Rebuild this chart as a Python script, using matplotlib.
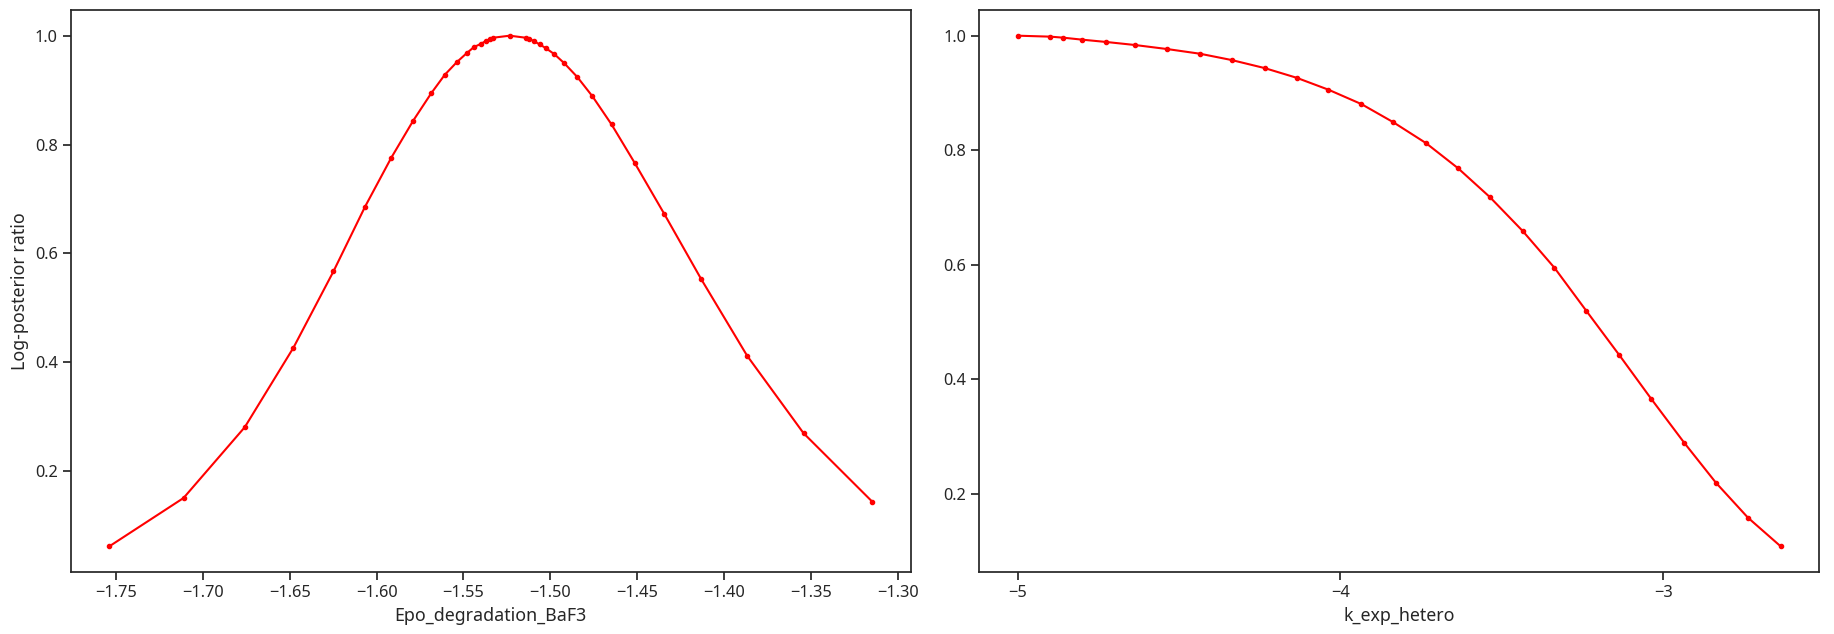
import matplotlib
matplotlib.use('Agg')
import matplotlib.pyplot as plt
from matplotlib.ticker import MultipleLocator
import seaborn as sns

# Profile: Epo_degradation_BaF3
epo_x = [-1.7538, -1.7110, -1.6758, -1.6478, -1.6248, -1.6066, -1.5915, -1.5789,
         -1.5686, -1.5608, -1.5538, -1.5481, -1.5440, -1.5402, -1.5372, -1.5347,
         -1.5328, -1.5234, -1.5143, -1.5121, -1.5095, -1.5062, -1.5028, -1.4977,
         -1.4921, -1.4845, -1.4758, -1.4648, -1.4516, -1.4346, -1.4132, -1.3868,
         -1.3544, -1.3148]
epo_y = [0.062, 0.151, 0.281, 0.427, 0.567, 0.686, 0.776, 0.844,
         0.894, 0.928, 0.9515, 0.968, 0.979, 0.9847, 0.990, 0.994,
         0.9963, 1.0, 0.9963, 0.994, 0.990, 0.984, 0.9775, 0.966,
         0.9497, 0.924, 0.8886, 0.8369, 0.7668, 0.6732, 0.5526, 0.412,
         0.270, 0.144]

# Profile: k_exp_hetero
kexp_x = [-5.0, -4.898, -4.858, -4.799, -4.725, -4.636, -4.537, -4.435,
          -4.337, -4.235, -4.136, -4.037, -3.935, -3.837, -3.735, -3.636,
          -3.537, -3.435, -3.337, -3.238, -3.136, -3.037, -2.935, -2.837,
          -2.738, -2.636]
kexp_y = [1.0, 0.9983, 0.9965, 0.993, 0.989, 0.9837, 0.9767, 0.9685,
          0.9575, 0.9435, 0.9266, 0.9057, 0.8806, 0.8492, 0.8125, 0.7688,
          0.7182, 0.6588, 0.5948, 0.5194, 0.4423, 0.3658, 0.2893, 0.2197,
          0.1588, 0.1084]

sns.set_theme(style='ticks')
plt.rcParams['font.family'] = ['Noto Sans', 'DejaVu Sans']
plt.rcParams['xtick.labelsize'] = 11.8
plt.rcParams['ytick.labelsize'] = 11.8
plt.rcParams['axes.labelsize'] = 12.8

fig, axes = plt.subplots(1, 2, figsize=(18.34, 6.34), dpi=100)

axes[0].plot(epo_x, epo_y, color='red', marker='.', markersize=6, linewidth=1.5)
axes[0].set_xlabel("Epo_degradation_BaF3")
axes[0].set_ylabel("Log-posterior ratio")
axes[0].xaxis.set_major_locator(MultipleLocator(0.05))

axes[1].plot(kexp_x, kexp_y, color='red', marker='.', markersize=6, linewidth=1.5)
axes[1].set_xlabel("k_exp_hetero")
axes[1].xaxis.set_major_locator(MultipleLocator(1))

plt.subplots_adjust(left=0.0387, right=0.9918, bottom=0.0978, top=0.984, wspace=0.082)
plt.savefig('out.png', dpi=100)
plt.close()
